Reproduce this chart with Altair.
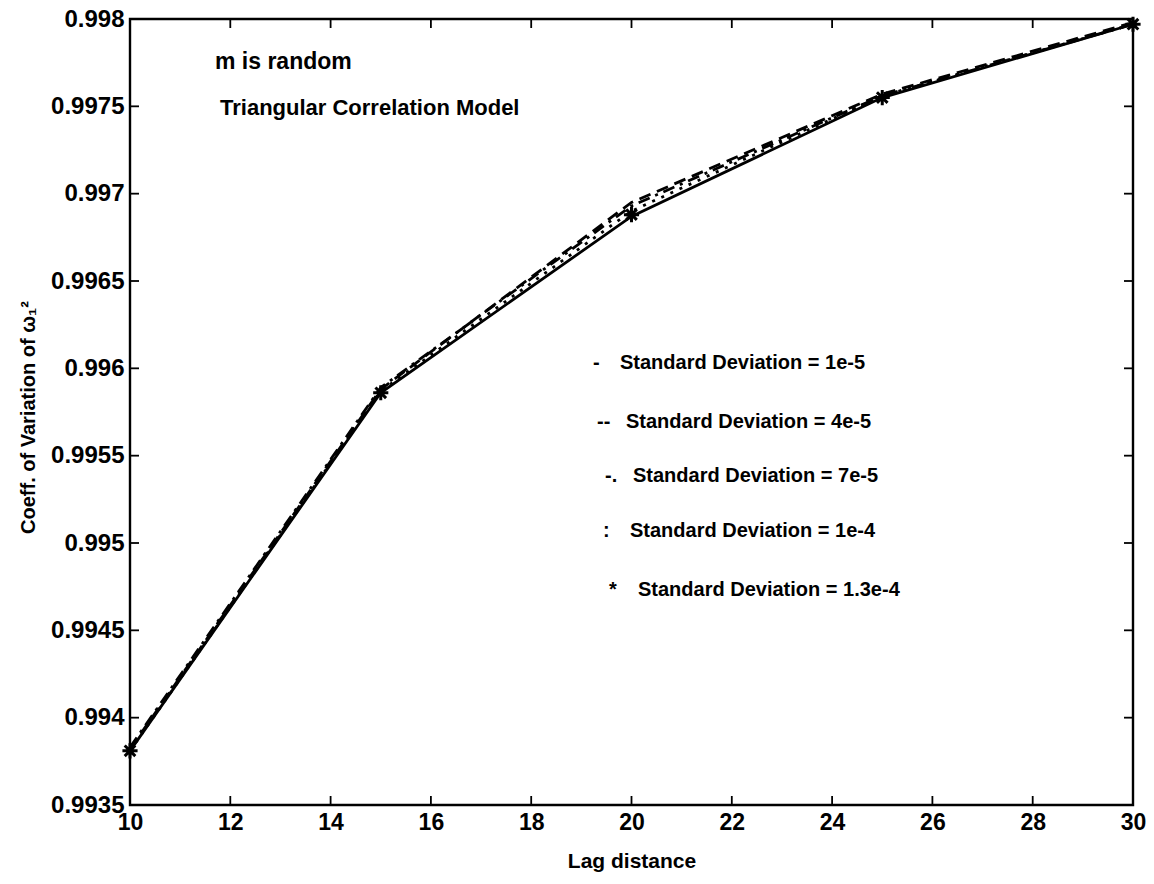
import altair as alt
import pandas as pd

lag = [10, 15, 20, 25, 30]
sd_1e5 = [0.99381, 0.99586, 0.99687, 0.99755, 0.99797]
sd_4e5 = [0.99382, 0.99588, 0.99695, 0.99757, 0.99798]
sd_7e5 = [0.99383, 0.99589, 0.99693, 0.99756, 0.99797]
sd_1e4 = [0.99381, 0.99587, 0.99690, 0.99756, 0.99797]
sd_13e4 = [0.99381, 0.99586, 0.99688, 0.99755, 0.99797]

x_ticks = [10, 12, 14, 16, 18, 20, 22, 24, 26, 28, 30]
y_ticks = [0.9935, 0.994, 0.9945, 0.995, 0.9955, 0.996, 0.9965, 0.997, 0.9975, 0.998]

legend_sym = ["-", "--", "-.", ":", "*"]
legend_txt = ["Standard Deviation = 1e-5", "Standard Deviation = 4e-5",
              "Standard Deviation = 7e-5", "Standard Deviation = 1e-4",
              "Standard Deviation = 1.3e-4"]

W, H = 1003, 786
FONT = "Liberation Sans"

xs = alt.Scale(domain=[10, 30], nice=False, zero=False)
ys = alt.Scale(domain=[0.9935, 0.998], nice=False, zero=False)

def series_df(vals):
    return pd.DataFrame({"lag": lag, "v": vals})

X = alt.X("lag:Q", scale=xs,
          axis=alt.Axis(values=x_ticks, title="Lag distance", grid=False, ticks=False,
                        domain=False, labelFontSize=23, labelFont=FONT, labelFontWeight="bold",
                        labelColor="black", labelPadding=6, labelFlush=False,
                        titleFont=FONT, titleFontSize=21,
                        titleFontWeight="bold", titleColor="black", titlePadding=16))
Y = alt.Y("v:Q", scale=ys,
          axis=alt.Axis(values=y_ticks, format="~g", title="Coeff. of Variation of ω₁²",
                        grid=False, ticks=False, domain=False, labelFontSize=24,
                        labelFont=FONT, labelFontWeight="bold", labelColor="black",
                        labelPadding=6, labelFlush=False, titleFont=FONT, titleFontSize=20,
                        titleFontWeight="bold", titleColor="black", titlePadding=12,
                        titleY=398))

base_line = dict(color="black", strokeWidth=2.8)
l1 = alt.Chart(series_df(sd_1e5)).mark_line(**base_line).encode(x=X, y=Y)
l2 = alt.Chart(series_df(sd_4e5)).mark_line(strokeDash=[12, 7], **base_line).encode(
    x=alt.X("lag:Q", scale=xs), y=alt.Y("v:Q", scale=ys))
l3 = alt.Chart(series_df(sd_7e5)).mark_line(strokeDash=[12, 6, 3, 6], **base_line).encode(
    x=alt.X("lag:Q", scale=xs), y=alt.Y("v:Q", scale=ys))
l4 = alt.Chart(series_df(sd_1e4)).mark_line(strokeDash=[3, 7], **base_line).encode(
    x=alt.X("lag:Q", scale=xs), y=alt.Y("v:Q", scale=ys))

star = "M -1 0 L 1 0 M 0 -1 L 0 1 M -0.7 -0.7 L 0.7 0.7 M -0.7 0.7 L 0.7 -0.7"
pts = alt.Chart(series_df(sd_13e4)).mark_point(shape=star, filled=False, color="black",
                                               strokeWidth=3, size=230, opacity=1).encode(
    x=alt.X("lag:Q", scale=xs), y=alt.Y("v:Q", scale=ys))

# frame
frame = alt.Chart(pd.DataFrame({"a": [0]})).mark_rect(fill=None, stroke="black",
                                                      strokeWidth=2.4).encode(
    x=alt.value(0), x2=alt.value(W), y=alt.value(0), y2=alt.value(H))

xt = pd.DataFrame({"lag": x_ticks})
yt = pd.DataFrame({"v": y_ticks})
TL = 9
tb = alt.Chart(xt).mark_rule(color="black", strokeWidth=1.8).encode(
    x=alt.X("lag:Q", scale=xs), y=alt.value(H), y2=alt.value(H - TL))
tt = alt.Chart(xt).mark_rule(color="black", strokeWidth=1.8).encode(
    x=alt.X("lag:Q", scale=xs), y=alt.value(0), y2=alt.value(TL))
tl = alt.Chart(yt).mark_rule(color="black", strokeWidth=1.8).encode(
    y=alt.Y("v:Q", scale=ys), x=alt.value(0), x2=alt.value(TL))
tr = alt.Chart(yt).mark_rule(color="black", strokeWidth=1.8).encode(
    y=alt.Y("v:Q", scale=ys), x=alt.value(W), x2=alt.value(W - TL))

def txt(s, x, y, size=19, align="left"):
    return alt.Chart(pd.DataFrame({"t": [s]})).mark_text(
        align=align, baseline="middle", font=FONT, fontSize=size, fontWeight="bold",
        color="black").encode(text="t:N", x=alt.value(x), y=alt.value(y))

ann = [txt("m is random", 85, 43, 23), txt("Triangular Correlation Model", 90, 89, 22)]

leg_x_sym = [463, 467, 475, 473, 479]
leg_x_txt = [490, 496, 503, 500, 508]
leg_y = [344, 403, 457, 512, 571]
leg = []
for i in range(5):
    leg.append(txt(legend_sym[i], leg_x_sym[i], leg_y[i], 20))
    leg.append(txt(legend_txt[i], leg_x_txt[i], leg_y[i], 20))

chart = alt.layer(l1, l2, l3, l4, pts, frame, tb, tt, tl, tr, *ann, *leg).properties(
    width=W, height=H,
    padding={"left": 130, "top": 19, "right": 21, "bottom": 79},
    autosize=alt.AutoSizeParams(type="none"),
    background="white",
).configure_view(stroke=None)

chart.save("out.html", embed_options={"renderer": "svg", "actions": False})
